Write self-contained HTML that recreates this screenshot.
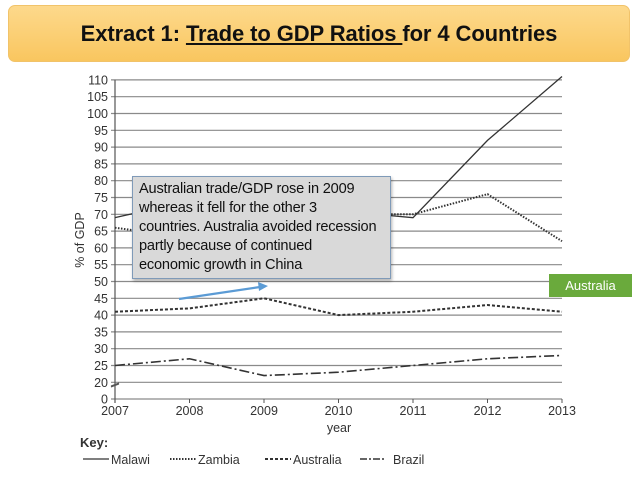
<!DOCTYPE html>
<html><head><meta charset="utf-8"><style>
body{margin:0;width:638px;height:479px;background:#fff;overflow:hidden;position:relative;font-family:"Liberation Sans",Arial,sans-serif}
#title{position:absolute;left:8px;top:5px;width:622px;height:57px;border-radius:7px;background:linear-gradient(#fdd98c,#f9c65f);border:1px solid #f1c36a;box-sizing:border-box;text-align:center;line-height:55px;font-family:"Liberation Sans",sans-serif;font-weight:bold;font-size:22px;color:#111;letter-spacing:-0.1px}
#note{position:absolute;left:132px;top:176px;width:259px;height:103px;box-sizing:border-box;background:#d9d9d9;border:1px solid #7f9ab8;box-shadow:1px 2px 3px rgba(0,0,0,.3);padding:3px 0 0 6px;font-size:14.6px;line-height:19px;color:#111;white-space:nowrap;letter-spacing:-0.2px}
#tag{position:absolute;left:549px;top:274px;width:83px;height:23px;background:#6aaa3c;color:#fff;font-size:13px;line-height:23px;text-align:center}
</style></head><body>
<div id="title">Extract 1: <u>Trade to GDP Ratios </u>for 4 Countries</div>
<svg id="chart" width="638" height="479" style="position:absolute;left:0;top:0"></svg>
<div id="note">Australian trade/GDP rose in 2009<br>whereas it fell for the other 3<br>countries. Australia avoided recession<br>partly because of continued<br>economic growth in China</div>
<div id="tag">Australia</div>
<script>
const years=[2007,2008,2009,2010,2011,2012,2013];
const yTicks=[0,20,25,30,35,40,45,50,55,60,65,70,75,80,85,90,95,100,105,110];
const malawi=[69,74,72,71,69,92,111];
const zambia=[66,63,65,70,70,76,62];
const australia=[41,42,45,40,41,43,41];
const brazil=[25,27,22,23,25,27,28];
const seriesNames=["Malawi","Zambia","Australia","Brazil"];
const NS="http://www.w3.org/2000/svg";
const svg=document.getElementById('chart');
const x0=115,x1=562;
function X(yr){return x0+(yr-2007)*(x1-x0)/6;}
function Y(v){if(v<20)return 399-(v/20)*16.7;return 382.3-(v-20)*3.36;}
function mk(t,a){const e=document.createElementNS(NS,t);for(const k in a)e.setAttribute(k,a[k]);svg.appendChild(e);return e;}
yTicks.forEach(v=>{
 const g=mk('line',{x1:x0-4,x2:x1,y1:Y(v),y2:Y(v),stroke:'#8a8a8a','stroke-width':1.2});
 
 
 const t=mk('text',{x:108,y:Y(v)+4.5,'text-anchor':'end','font-size':12.5,fill:'#333'});
 t.textContent=v;
 
 
});
mk('line',{x1:x0,x2:x0,y1:Y(110),y2:Y(0)+4,stroke:'#555','stroke-width':1.2});
mk('path',{d:`M${x0-4} ${Y(0)-13} l8 -3 l-8 4 l8 -3`,stroke:'#555',fill:'none'});
years.forEach(yr=>{
 mk('line',{x1:X(yr),x2:X(yr),y1:Y(0),y2:Y(0)+4,stroke:'#555'});
 const t=mk('text',{x:X(yr),y:415,'text-anchor':'middle','font-size':12.5,fill:'#333'});
 t.textContent=yr;
 
 
});
let t=mk('text',{x:339,y:432,'text-anchor':'middle','font-size':12.5,fill:'#333'});t.textContent='year';


t=mk('text',{x:0,y:0,transform:'translate(84,240) rotate(-90)','text-anchor':'middle','font-size':12.5,fill:'#333'});t.textContent='% of GDP';


const styles=[{d:'none',w:1.3},{d:'1.5 1.5',w:2},{d:'3 2',w:2},{d:'10 3 2 3',w:1.6}];
[malawi,zambia,australia,brazil].forEach((s,i)=>{
 const p=mk('polyline',{points:s.map((v,j)=>X(years[j])+','+Y(v)).join(' '),fill:'none',stroke:'#333','stroke-width':styles[i].w,'stroke-dasharray':styles[i].d});
 
 
});
t=mk('text',{x:80,y:447,'font-size':13,'font-weight':'bold',fill:'#333'});t.textContent='Key:';


const lx=[83,170,265,360];
seriesNames.forEach((n,i)=>{
 const l=mk('line',{x1:lx[i],x2:lx[i]+26,y1:459,y2:459,stroke:'#333','stroke-width':styles[i].w,'stroke-dasharray':i==3?'7 2 2 2':styles[i].d});
 
 
 const tt=mk('text',{x:lx[i]+28+(i==3?5:0),y:464,'font-size':12.5,fill:'#333'});tt.textContent=n;
 
 
});
const a=mk('line',{x1:179,y1:299,x2:260,y2:287,stroke:'#5b9bd5','stroke-width':2.2});


mk('path',{d:'M268 286 L258 282 L259 291 Z',fill:'#5b9bd5'});
</script>
</body></html>
